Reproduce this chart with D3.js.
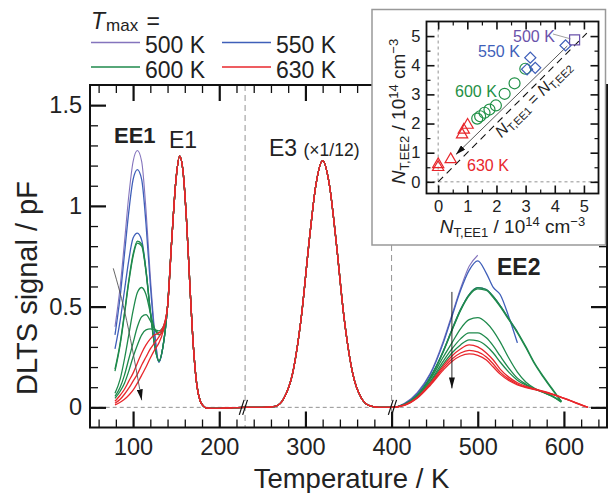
<!DOCTYPE html>
<html>
<head>
<meta charset="utf-8">
<script src="https://cdnjs.cloudflare.com/ajax/libs/d3/7.8.5/d3.min.js"></script>
<style>
body { margin: 0; background: #fff; }
svg { display: block; font-family: "Liberation Sans", Arial, sans-serif; }
</style>
</head>
<body>
<div id="chart"></div>
<script>
// legend groups
var tmaxLabels = ["500 K", "550 K", "600 K", "630 K"];
var tmaxColors = ["#8474bd", "#3f5fb9", "#1f8a4c", "#e8272c"];

// Tmax group of every trace (0 = 500 K ... 3 = 630 K)
var traceGroup = [0, 1, 1, 2, 2, 2, 2, 2, 3, 3, 3];

// EE1 region, one row per trace
var ee1Temps = [79, 85, 90, 95, 100, 105, 110, 115, 120, 125, 130, 135];
var ee1Values = [
    [0.40, 0.60, 0.82, 1.05, 1.22, 1.275, 1.22, 0.98, 0.65, 0.38, 0.23, 0.31],
    [0.36, 0.55, 0.76, 0.97, 1.13, 1.18, 1.13, 0.91, 0.61, 0.36, 0.225, 0.31],
    [0.29, 0.43, 0.58, 0.73, 0.84, 0.865, 0.83, 0.68, 0.48, 0.31, 0.225, 0.31],
    [0.19, 0.32, 0.47, 0.63, 0.76, 0.825, 0.81, 0.68, 0.48, 0.31, 0.23, 0.31],
    [0.18, 0.31, 0.46, 0.62, 0.75, 0.815, 0.80, 0.67, 0.47, 0.305, 0.23, 0.31],
    [0.07, 0.14, 0.24, 0.36, 0.48, 0.57, 0.595, 0.56, 0.47, 0.39, 0.36, 0.38],
    [0.055, 0.10, 0.16, 0.24, 0.32, 0.40, 0.45, 0.46, 0.43, 0.39, 0.37, 0.39],
    [0.045, 0.08, 0.12, 0.18, 0.25, 0.31, 0.36, 0.385, 0.39, 0.385, 0.38, 0.40],
    [0.03, 0.06, 0.09, 0.13, 0.17, 0.22, 0.27, 0.31, 0.34, 0.36, 0.37, 0.40],
    [0.02, 0.04, 0.065, 0.095, 0.13, 0.165, 0.21, 0.25, 0.29, 0.32, 0.35, 0.39],
    [0.012, 0.025, 0.04, 0.06, 0.085, 0.12, 0.16, 0.20, 0.245, 0.285, 0.32, 0.38]
];

// E1 peak, shared by all traces
var e1Temps = [140, 145, 150, 154, 158, 162, 166, 170, 174, 178, 182, 186, 195, 210, 230];
var e1Values = [0.50, 0.84, 1.14, 1.247, 1.17, 0.93, 0.60, 0.30, 0.11, 0.03, 0.005, -0.004, -0.005, -0.003, 0];

// E3 peak (x1/12), shared by all traces
var e3Temps = [250, 265, 275, 285, 295, 305, 312, 320, 328, 335, 345, 355, 365, 375, 385, 400];
var e3Values = [0, 0.005, 0.045, 0.166, 0.44, 0.85, 1.10, 1.225, 1.10, 0.85, 0.44, 0.166, 0.045, 0.007, 0, 0];

// EE2 region, one row per trace (rows stop at the trace's Tmax)
var ee2Temps = [415, 430, 445, 460, 470, 480, 490, 500, 510, 518, 526, 536, 546, 556, 566, 576, 586, 597, 607, 617, 628];
var ee2Values = [
    [0.02, 0.075, 0.17, 0.33, 0.46, 0.59, 0.70, 0.755],
    [0.018, 0.07, 0.165, 0.32, 0.45, 0.58, 0.68, 0.727, 0.665, 0.595, 0.56, 0.45, 0.32],
    [0.015, 0.062, 0.15, 0.28, 0.385, 0.485, 0.56, 0.594, 0.585, 0.55, 0.505, 0.44, 0.375],
    [0.015, 0.062, 0.15, 0.28, 0.385, 0.485, 0.56, 0.594, 0.585, 0.55, 0.505, 0.44, 0.375, 0.30, 0.22, 0.155, 0.095, 0.03],
    [0.015, 0.06, 0.148, 0.275, 0.38, 0.48, 0.555, 0.588, 0.58, 0.545, 0.50, 0.435, 0.37, 0.295, 0.215, 0.15, 0.09, 0.028],
    [0.014, 0.058, 0.14, 0.25, 0.32, 0.39, 0.435, 0.445, 0.42, 0.38, 0.325, 0.245, 0.175, 0.125, 0.095, 0.075, 0.055, 0.025],
    [0.013, 0.055, 0.13, 0.23, 0.29, 0.34, 0.37, 0.37, 0.345, 0.305, 0.255, 0.195, 0.145, 0.115, 0.092, 0.075, 0.057, 0.028],
    [0.012, 0.052, 0.125, 0.215, 0.27, 0.31, 0.335, 0.33, 0.305, 0.27, 0.225, 0.175, 0.135, 0.11, 0.09, 0.074, 0.057, 0.03],
    [0.012, 0.05, 0.12, 0.205, 0.255, 0.29, 0.31, 0.30, 0.27, 0.235, 0.19, 0.15, 0.122, 0.104, 0.092, 0.08, 0.067, 0.05, 0.035, 0.018, 0],
    [0.011, 0.048, 0.115, 0.195, 0.24, 0.27, 0.283, 0.275, 0.25, 0.215, 0.175, 0.14, 0.116, 0.10, 0.09, 0.078, 0.066, 0.05, 0.034, 0.017, 0],
    [0.01, 0.046, 0.11, 0.185, 0.228, 0.255, 0.265, 0.258, 0.235, 0.20, 0.165, 0.133, 0.112, 0.098, 0.088, 0.077, 0.065, 0.049, 0.033, 0.016, 0]
];

// axis ticks
var xMajorTicks = [100, 200, 300, 400, 500, 600];
var yMajorTicks = [0, 0.5, 1, 1.5];
var breakTemps = [228, 401];
var splitTemps = [230, 400];

// arrows (T, signal)
var ee1ArrowT = [77, 92.6, 110];
var ee1ArrowV = [0.69, 0.43, 0.035];
var ee2ArrowT = [470, 470];
var ee2ArrowV = [0.573, 0.094];

// inset: N_T,EE1 vs N_T,EE2 (10^14 cm^-3)
var insetTicks = [0, 1, 2, 3, 4, 5];
var sq500X = [4.68], sq500Y = [4.87];
var dia550X = [4.37, 3.16, 3.05, 3.33], dia550Y = [4.68, 4.26, 3.86, 3.91];
var circ600X = [2.99, 2.62, 2.28, 1.98, 1.76, 1.59, 1.44, 1.34];
var circ600Y = [3.88, 3.38, 3.02, 2.62, 2.48, 2.37, 2.25, 2.17];
var tri630X = [1.01, 0.88, 0.82, 0.43, 0.0, 0.0];
var tri630Y = [1.95, 1.78, 1.62, 0.77, 0.60, 0.50];

var width = 610, height = 493;
var svg = d3.select("#chart").append("svg")
    .attr("width", width)
    .attr("height", height);

svg.append("rect").attr("width", width).attr("height", height).attr("fill", "#fff");

var defs = svg.append("defs");
defs.append("marker")
    .attr("id", "head")
    .attr("viewBox", "0 0 11 6")
    .attr("refX", 11).attr("refY", 3)
    .attr("markerWidth", 11).attr("markerHeight", 6)
    .attr("markerUnits", "userSpaceOnUse")
    .attr("orient", "auto")
    .append("path").attr("d", "M0,0L11,3L0,6Z").attr("fill", "#111");
defs.append("marker")
    .attr("id", "headSmall")
    .attr("viewBox", "0 0 10 6")
    .attr("refX", 10).attr("refY", 3)
    .attr("markerWidth", 10).attr("markerHeight", 6)
    .attr("markerUnits", "userSpaceOnUse")
    .attr("orient", "auto")
    .append("path").attr("d", "M0,0L10,3L0,6Z").attr("fill", "#111");

var plot = { left: 90, right: 607, top: 85, bottom: 427.5 };
var x = d3.scaleLinear().domain([50, 650]).range([plot.left, plot.right]);
var y = d3.scaleLinear().domain([-0.1, 1.6]).range([plot.bottom, plot.top]);

defs.append("clipPath").attr("id", "clip")
    .append("rect")
    .attr("x", plot.left).attr("y", plot.top)
    .attr("width", plot.right - plot.left).attr("height", plot.bottom - plot.top);

// dashed guides
svg.append("line")
    .attr("x1", x(52)).attr("x2", x(648))
    .attr("y1", y(0)).attr("y2", y(0))
    .attr("stroke", "#777").attr("stroke-width", 0.8).attr("stroke-dasharray", "4,3");

svg.selectAll(".split")
    .data(splitTemps)
    .enter()
    .append("line")
    .attr("class", "split")
    .attr("x1", function (d) { return x(d); })
    .attr("x2", function (d) { return x(d); })
    .attr("y1", plot.top).attr("y2", plot.bottom)
    .attr("stroke", "#888").attr("stroke-width", 0.9).attr("stroke-dasharray", "6,4");

// build every trace from the shared + per-trace pieces
var traces = traceGroup.map(function (g, i) {
    var pts = [];
    ee1Temps.forEach(function (t, j) { pts.push([t, ee1Values[i][j]]); });
    e1Temps.forEach(function (t, j) { pts.push([t, e1Values[j]]); });
    e3Temps.forEach(function (t, j) { pts.push([t, e3Values[j]]); });
    ee2Values[i].forEach(function (v, j) { pts.push([ee2Temps[j], v]); });
    return { group: g, points: pts };
});

var line = d3.line()
    .x(function (d) { return x(d[0]); })
    .y(function (d) { return y(d[1]); })
    .curve(d3.curveMonotoneX);

svg.append("g")
    .attr("clip-path", "url(#clip)")
    .selectAll("path")
    .data(traces)
    .enter()
    .append("path")
    .attr("d", function (d) { return line(d.points); })
    .attr("fill", "none")
    .attr("stroke", function (d) { return tmaxColors[d.group]; })
    .attr("stroke-width", function (d) { return d.group === 0 ? 1.1 : 1.3; });

// axis breaks "//"
breakTemps.forEach(function (t) {
    [-1.7, 1.7].forEach(function (k) {
        svg.append("line")
            .attr("x1", x(t) + k - 2.4).attr("y1", y(0) + 7.5)
            .attr("x2", x(t) + k + 2.4).attr("y2", y(0) - 7.5)
            .attr("stroke", "#111").attr("stroke-width", 1.2);
    });
});

// arrows
var arrowLine = d3.line()
    .x(function (d) { return x(d[0]); })
    .y(function (d) { return y(d[1]); })
    .curve(d3.curveNatural);

svg.append("path")
    .attr("d", arrowLine(ee1ArrowT.map(function (t, i) { return [t, ee1ArrowV[i]]; })))
    .attr("fill", "none").attr("stroke", "#555").attr("stroke-width", 0.9)
    .attr("marker-end", "url(#head)");

svg.append("path")
    .attr("d", arrowLine(ee2ArrowT.map(function (t, i) { return [t, ee2ArrowV[i]]; })))
    .attr("fill", "none").attr("stroke", "#111").attr("stroke-width", 0.9)
    .attr("marker-end", "url(#head)");

// axes: ticks inward on all four sides
var xMinor = d3.range(60, 650, 20).filter(function (d) { return d % 100 !== 0; });
var yMinor = d3.range(1, 16).map(function (d) { return d / 10; }).filter(function (d) { return (d * 10) % 5 !== 0; });

function drawAxis(axis, tx, ty, labels) {
    var g = svg.append("g")
        .attr("transform", "translate(" + tx + "," + ty + ")")
        .call(axis);
    g.select(".domain").remove();
    g.attr("font-family", null).attr("font-size", null);
    g.selectAll("text").attr("font-size", 23.5).attr("fill", "#222");
    if (!labels) g.selectAll("text").remove();
    return g;
}

function tickStyle(g, w) {
    g.selectAll(".tick line").attr("stroke", "#111").attr("stroke-width", w);
}

tickStyle(drawAxis(d3.axisBottom(x).tickValues(xMajorTicks).tickSize(-16).tickPadding(11).tickFormat(d3.format("d")), 0, plot.bottom, true), 2.2);
tickStyle(drawAxis(d3.axisBottom(x).tickValues(xMinor).tickSize(-8), 0, plot.bottom, false), 1.3);
tickStyle(drawAxis(d3.axisTop(x).tickValues(xMajorTicks).tickSize(-16), 0, plot.top, false), 2.2);
tickStyle(drawAxis(d3.axisTop(x).tickValues(xMinor).tickSize(-8), 0, plot.top, false), 1.3);
tickStyle(drawAxis(d3.axisLeft(y).tickValues(yMajorTicks).tickSize(-16).tickPadding(8).tickFormat(function (d) { return d3.format("")(d); }), plot.left, 0, true), 2.2);
tickStyle(drawAxis(d3.axisLeft(y).tickValues(yMinor).tickSize(-8), plot.left, 0, false), 1.3);
tickStyle(drawAxis(d3.axisRight(y).tickValues(yMajorTicks).tickSize(-16), plot.right, 0, false), 2.2);
tickStyle(drawAxis(d3.axisRight(y).tickValues(yMinor).tickSize(-8), plot.right, 0, false), 1.3);

svg.append("rect")
    .attr("x", plot.left).attr("y", plot.top)
    .attr("width", plot.right - plot.left).attr("height", plot.bottom - plot.top)
    .attr("fill", "none").attr("stroke", "#111").attr("stroke-width", 2);

// axis titles
svg.append("text")
    .attr("x", (plot.left + plot.right) / 2 + 3).attr("y", 488)
    .attr("text-anchor", "middle").attr("font-size", 27.5).attr("fill", "#222")
    .text("Temperature / K");

svg.append("text")
    .attr("transform", "translate(37,288) rotate(-90)")
    .attr("text-anchor", "middle").attr("font-size", 29).attr("fill", "#222")
    .text("DLTS signal / pF");

// peak labels
svg.append("text").attr("x", 114).attr("y", 143).attr("font-size", 22).attr("font-weight", "bold").attr("fill", "#222").text("EE1");
svg.append("text").attr("x", 169).attr("y", 148).attr("font-size", 23).attr("fill", "#222").text("E1");
var e3Label = svg.append("text").attr("x", 269).attr("y", 156).attr("fill", "#222");
e3Label.append("tspan").attr("font-size", 23).text("E3 ");
e3Label.append("tspan").attr("font-size", 17.5).text("(×1/12)");
svg.append("text").attr("x", 497).attr("y", 275).attr("font-size", 23).attr("font-weight", "bold").attr("fill", "#222").text("EE2");

// legend
var lgTitle = svg.append("text").attr("x", 91).attr("y", 29).attr("fill", "#222");
lgTitle.append("tspan").attr("font-size", 23).attr("font-style", "italic").text("T");
lgTitle.append("tspan").attr("font-size", 17).attr("dy", 2).attr("dx", 1).text("max");
lgTitle.append("tspan").attr("font-size", 23).attr("dy", -2).attr("dx", 2).text(" =");

var legend = svg.selectAll(".lg")
    .data(tmaxLabels)
    .enter()
    .append("g")
    .attr("class", "lg")
    .attr("transform", function (d, i) { return "translate(" + (91 + (i % 2) * 131) + "," + (42.5 + Math.floor(i / 2) * 24.5) + ")"; });
legend.append("line")
    .attr("x1", 0).attr("x2", 49)
    .attr("stroke", function (d, i) { return tmaxColors[i]; })
    .attr("stroke-width", 1.6);
legend.append("text")
    .attr("x", 54).attr("y", 10.5)
    .attr("font-size", 23).attr("fill", "#222")
    .text(function (d) { return d; });

// ---------- inset ----------
var inset = { left: 426.5, right: 598.5, top: 21.5, bottom: 193.5 };
var xi = d3.scaleLinear().domain([-0.4, 5.5]).range([inset.left, inset.right]);
var yi = d3.scaleLinear().domain([-0.4, 5.5]).range([inset.bottom, inset.top]);

svg.append("rect")
    .attr("x", 372).attr("y", 9.5).attr("width", 233.5).attr("height", 235.5)
    .attr("fill", "#fff").attr("stroke", "#999").attr("stroke-width", 1.5);

svg.append("line")
    .attr("x1", xi(0)).attr("x2", xi(0)).attr("y1", inset.bottom).attr("y2", inset.top)
    .attr("stroke", "#777").attr("stroke-width", 0.8).attr("stroke-dasharray", "3,3");
svg.append("line")
    .attr("x1", inset.left).attr("x2", inset.right).attr("y1", yi(0)).attr("y2", yi(0))
    .attr("stroke", "#777").attr("stroke-width", 0.8).attr("stroke-dasharray", "3,3");
svg.append("line")
    .attr("x1", xi(0)).attr("y1", yi(0)).attr("x2", xi(5.1)).attr("y2", yi(5.1))
    .attr("stroke", "#111").attr("stroke-width", 1.1).attr("stroke-dasharray", "7,5");
svg.append("line")
    .attr("x1", xi(4.43)).attr("y1", yi(4.66)).attr("x2", xi(0.61)).attr("y2", yi(0.94))
    .attr("stroke", "#111").attr("stroke-width", 0.7)
    .attr("marker-end", "url(#headSmall)");

var insetMinor = [0.5, 1.5, 2.5, 3.5, 4.5];
function insetAxis(axis, tx, ty, w, labels) {
    var g = svg.append("g").attr("transform", "translate(" + tx + "," + ty + ")").call(axis);
    g.select(".domain").remove();
    g.attr("font-family", null).attr("font-size", null);
    g.selectAll(".tick line").attr("stroke", "#111").attr("stroke-width", w);
    if (labels) g.selectAll("text").attr("font-size", 16.5).attr("fill", "#222");
    else g.selectAll("text").remove();
}
var intFmt = d3.format("d");
insetAxis(d3.axisBottom(xi).tickValues(insetTicks).tickSize(-8).tickPadding(7).tickFormat(intFmt), 0, inset.bottom, 1.6, true);
insetAxis(d3.axisBottom(xi).tickValues(insetMinor).tickSize(-4), 0, inset.bottom, 1.2, false);
insetAxis(d3.axisTop(xi).tickValues(insetTicks).tickSize(-8), 0, inset.top, 1.6, false);
insetAxis(d3.axisTop(xi).tickValues(insetMinor).tickSize(-4), 0, inset.top, 1.2, false);
insetAxis(d3.axisLeft(yi).tickValues(insetTicks).tickSize(-8).tickPadding(6).tickFormat(intFmt), inset.left, 0, 1.6, true);
insetAxis(d3.axisLeft(yi).tickValues(insetMinor).tickSize(-4), inset.left, 0, 1.2, false);
insetAxis(d3.axisRight(yi).tickValues(insetTicks).tickSize(-8), inset.right, 0, 1.6, false);
insetAxis(d3.axisRight(yi).tickValues(insetMinor).tickSize(-4), inset.right, 0, 1.2, false);

svg.append("rect")
    .attr("x", inset.left).attr("y", inset.top)
    .attr("width", inset.right - inset.left).attr("height", inset.bottom - inset.top)
    .attr("fill", "none").attr("stroke", "#111").attr("stroke-width", 1.8);

// markers
function markers(xs, ys, type, size, color, rot) {
    svg.append("g").selectAll("path")
        .data(xs.map(function (v, i) { return [v, ys[i]]; }))
        .enter()
        .append("path")
        .attr("d", d3.symbol().type(type).size(size))
        .attr("transform", function (d) { return "translate(" + xi(d[0]) + "," + yi(d[1]) + ") rotate(" + rot + ")"; })
        .attr("fill", "none").attr("stroke", color).attr("stroke-width", 1.2);
}
markers(tri630X, tri630Y, d3.symbolTriangle, 55, "#e8272c", 0);
markers(circ600X, circ600Y, d3.symbolCircle, 95, "#1f9046", 0);
markers(dia550X, dia550Y, d3.symbolSquare, 62, "#3f5fb9", 45);
markers(sq500X, sq500Y, d3.symbolSquare, 100, "#6a52aa", 0);

// leader for 500 K label
svg.append("line")
    .attr("x1", 553).attr("y1", 34).attr("x2", xi(sq500X[0]) - 4).attr("y2", yi(sq500Y[0]) - 1)
    .attr("stroke", "#777").attr("stroke-width", 0.7);

svg.append("text").attr("x", 513).attr("y", 41.5).attr("font-size", 16).attr("fill", "#6a52aa").text("500 K");
svg.append("text").attr("x", 478).attr("y", 56.5).attr("font-size", 16).attr("fill", "#3f5fb9").text("550 K");
svg.append("text").attr("x", 455).attr("y", 96.5).attr("font-size", 16).attr("fill", "#1f9046").text("600 K");
svg.append("text").attr("x", 467).attr("y", 170.5).attr("font-size", 16).attr("fill", "#e8272c").text("630 K");

// diagonal label
var diag = svg.append("text")
    .attr("transform", "translate(" + xi(3.39) + "," + yi(2.71) + ") rotate(-45)")
    .attr("text-anchor", "middle").attr("fill", "#222").attr("font-size", 16);
diag.append("tspan").attr("font-style", "italic").text("N");
diag.append("tspan").attr("font-size", 11).attr("dy", 3).text("T,EE1");
diag.append("tspan").attr("dy", -3).text(" = ");
diag.append("tspan").attr("font-style", "italic").text("N");
diag.append("tspan").attr("font-size", 11).attr("dy", 3).text("T,EE2");

// inset axis titles
function unitLabel(sel, sub) {
    sel.append("tspan").attr("font-style", "italic").text("N");
    sel.append("tspan").attr("font-size", 13).attr("dy", 4).text(sub);
    sel.append("tspan").attr("dy", -4).text(" / 10");
    sel.append("tspan").attr("font-size", 13).attr("dy", -7).text("14");
    sel.append("tspan").attr("dy", 7).text(" cm");
    sel.append("tspan").attr("font-size", 13).attr("dy", -7).text("−3");
}
unitLabel(svg.append("text")
    .attr("x", (inset.left + inset.right) / 2).attr("y", 233)
    .attr("text-anchor", "middle").attr("font-size", 19).attr("fill", "#222"), "T,EE1");
unitLabel(svg.append("text")
    .attr("transform", "translate(405," + ((inset.top + inset.bottom) / 2 + 4) + ") rotate(-90)")
    .attr("text-anchor", "middle").attr("font-size", 19).attr("fill", "#222"), "T,EE2");
</script>
</body>
</html>
